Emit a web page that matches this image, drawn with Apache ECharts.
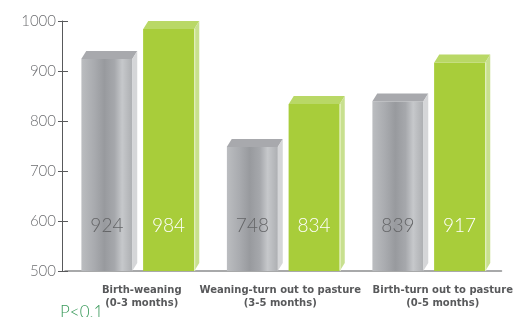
<!DOCTYPE html>
<html>
<head>
<meta charset="utf-8">
<script src="https://cdn.jsdelivr.net/npm/echarts@6/dist/echarts.min.js"></script>
<style>
  html, body { margin: 0; padding: 0; background: #fff; }
  #chart { width: 515px; height: 317px; }
</style>
</head>
<body>
<div id="chart"></div>
<script>
const categories = ['Birth-weaning\n(0-3 months)', 'Weaning-turn out to pasture\n(3-5 months)', 'Birth-turn out to pasture\n(0-5 months)']
const grayValues = [924, 748, 839]
const greenValues = [984, 834, 917]
const yTicks = [500, 600, 700, 800, 900, 1000]

const chart = echarts.init(document.getElementById('chart'))

// 立体效果：顶面 + 侧面
const faces = (offset, topColor, sideColor, edgeColor) => (params, api) => {
  const p = api.coord([api.value(0), api.value(1)])
  const base = api.coord([api.value(0), yTicks[0]])
  const x0 = p[0] + offset - 25.5
  const x1 = x0 + 51
  const d = 5, h = 8
  const kids = [
    {
      type: 'polygon',
      shape: { points: [[x0, p[1]], [x0 + d, p[1] - h], [x1 + d, p[1] - h], [x1, p[1]]] },
      style: { fill: topColor },
    },
    {
      type: 'polygon',
      shape: { points: [[x1, p[1]], [x1 + d, p[1] - h], [x1 + d, base[1] - h], [x1, base[1]]] },
      style: { fill: sideColor },
    },
  ]
  if (edgeColor) {
    kids.push({
      type: 'line',
      shape: { x1: x1 + 0.5, y1: p[1], x2: x1 + 0.5, y2: base[1] },
      style: { stroke: edgeColor, lineWidth: 1 },
    })
  }
  return { type: 'group', children: kids }
}

const grayGrad = new echarts.graphic.LinearGradient(0, 0, 1, 0, [
  { offset: 0, color: '#bbbdc0' },
  { offset: 0.25, color: '#a9abaf' },
  { offset: 0.45, color: '#989a9e' },
  { offset: 0.65, color: '#a6a8ac' },
  { offset: 0.8, color: '#c6c8cb' },
  { offset: 1, color: '#adafb2' },
])

// 标签左右微调
const labelPad = [[0, 0, 0, 8], [0, 6, 0, 0], [0, 0, 0, 28]]

const option = {
  animation: false,
  grid: { left: 65, right: 8, top: 21, bottom: 46 },
  xAxis: {
    type: 'category',
    data: categories.map((c, i) => ({ value: c, textStyle: { padding: labelPad[i] } })),
    axisLine: { lineStyle: { color: '#8c8d8f', width: 1.5 } },
    axisTick: { show: false },
    axisLabel: {
      interval: 0,
      hideOverlap: false,
      margin: 13,
      color: '#58595b',
      fontFamily: 'DejaVu Sans',
      fontWeight: 'bold',
      fontSize: 10,
      lineHeight: 13,
    },
  },
  yAxis: [
    {
      type: 'value',
      min: 500,
      max: 1000,
      interval: 100,
      offset: 3,
      axisLine: { show: true, lineStyle: { color: '#58595b', width: 1 } },
      axisTick: { show: true, length: 4, lineStyle: { color: '#58595b' } },
      splitLine: { show: false },
      axisLabel: {
        margin: 6,
        color: '#6d6e71',
        fontFamily: 'Lato',
        fontWeight: 300,
        fontSize: 15,
        formatter: (v) => String(v),
      },
    },
    {
      type: 'value',
      min: 500,
      max: 1000,
      interval: 100,
      position: 'left',
      offset: 3,
      axisLine: { show: false },
      axisTick: { show: true, inside: true, length: 6, lineStyle: { color: '#58595b' } },
      splitLine: { show: false },
      axisLabel: { show: false },
    },
  ],
  series: [
    {
      type: 'bar',
      data: grayValues,
      barWidth: 51,
      barGap: '21%',
      itemStyle: { color: grayGrad },
      label: {
        show: true,
        position: 'insideBottom',
        distance: 36,
        color: '#646567',
        fontFamily: 'Lato',
        fontWeight: 300,
        fontSize: 19,
      },
    },
    {
      type: 'bar',
      data: greenValues,
      barWidth: 51,
      itemStyle: { color: '#a8cd3a' },
      label: {
        show: true,
        position: 'insideBottom',
        distance: 36,
        color: '#ffffff',
        fontFamily: 'Lato',
        fontWeight: 300,
        fontSize: 19,
      },
    },
    {
      type: 'custom',
      renderItem: faces(-31, '#a8a9ad', '#d5d6d8'),
      data: grayValues.map((v, i) => [i, v]),
      z: 3,
    },
    {
      type: 'custom',
      renderItem: faces(31, '#b9d866', '#c8e08f', '#e6f1c4'),
      data: greenValues.map((v, i) => [i, v]),
      z: 3,
    },
  ],
  graphic: [
    {
      type: 'text',
      left: 60,
      top: 304,
      style: { text: 'P<0.1', fill: '#3a9a5b', fontFamily: 'Lato', fontWeight: 300, fontSize: 17 },
    },
  ],
}

chart.setOption(option)
window.addEventListener('resize', () => {
  chart.resize()
})
</script>
</body>
</html>
